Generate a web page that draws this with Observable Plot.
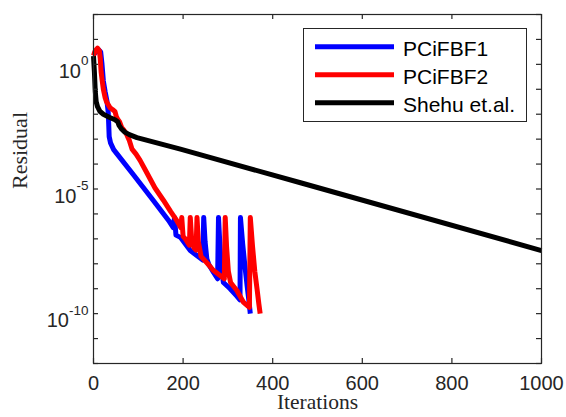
<!DOCTYPE html>
<html><head><meta charset="utf-8">
<script src="https://cdn.jsdelivr.net/npm/d3@7"></script>
<script src="https://cdn.jsdelivr.net/npm/@observablehq/plot@0.6"></script>
<style>body{margin:0;background:#fff}svg{display:block}</style>
</head><body><div id="chart"></div>
<script>
// ---- data (log10 of residual) ----
const seriesNames = ["PCiFBF1", "PCiFBF2", "Shehu et.al."];
const seriesColors = ["#0000ff", "#ff0000", "#000000"];

const blueIter = [0,6,12,16,19,22,26,30,33,35,38,45,90,134,168,178,181,184,194,216,244,246,249,253,258,268,277,279,282,286,290,305,320,327,328,333,338,343,347,350];
const blueLog  = [0.40,0.50,0.58,0.50,0.00,-0.67,-1.10,-1.47,-1.95,-2.90,-3.15,-3.42,-4.45,-5.47,-6.27,-6.55,-6.14,-6.85,-6.94,-7.47,-7.85,-6.14,-7.1,-7.8,-8.05,-8.35,-8.6,-6.14,-7.2,-8.3,-8.75,-9.0,-9.3,-9.45,-6.14,-7.2,-8.1,-8.9,-9.5,-10.0];

const redIter = [0,4,9,13,15,17,19,22,26,29,33,37,43,48,51,54,58,63,67,71,75,80,86,95,104,119,137,156,172,186,195,197,200,205,214,216,219,224,229,231,234,240,255,268,292,294,297,301,306,320,335,348,350,355,360,365,369,372];
const redLog  = [0.35,0.55,0.65,0.55,0.25,-0.30,-0.60,-1.00,-1.34,-1.50,-1.62,-1.74,-1.82,-1.90,-2.10,-2.20,-2.30,-2.54,-2.62,-2.72,-2.85,-3.05,-3.40,-3.60,-3.85,-4.35,-4.95,-5.45,-5.9,-6.27,-6.55,-6.14,-6.9,-7.0,-7.25,-6.14,-7.0,-7.35,-7.45,-6.14,-7.1,-7.7,-8.0,-8.27,-8.6,-6.14,-7.3,-8.3,-8.75,-9.07,-9.55,-9.75,-6.14,-7.3,-8.3,-9.0,-9.6,-10.0];

const blackIter = [0,2,4,6,9,14,22,35,48,54,57,62,70,80,97,194,462,1000];
const blackLog  = [0.33,-0.3,-1.1,-1.5,-1.7,-1.88,-2.0,-2.12,-2.22,-2.3,-2.45,-2.58,-2.72,-2.82,-2.94,-3.4,-4.75,-7.47];

const xTicks = [0, 200, 400, 600, 800, 1000];
const yTickExps = [-12,-11,-10,-9,-8,-7,-6,-5,-4,-3,-2,-1,0,1,2];
const yLabelExps = [0, -5, -10];

// ---- build tables ----
const toRows = (its, logs, name) => its.map((it, i) => ({iter: it, res: Math.pow(10, logs[i]), series: name}));
const blueRows = toRows(blueIter, blueLog, seriesNames[0]);
const redRows = toRows(redIter, redLog, seriesNames[1]);
const blackRows = toRows(blackIter, blackLog, seriesNames[2]);

const W = 566, H = 417, mL = 93, mR = 25, mT = 14, mB = 54;
const innerW = W - mL - mR, innerH = H - mT - mB;
const axisColor = "#262626";
const tickLen = 5;
const lw = 5;
const sans = "'Liberation Sans', Arial, Helvetica, sans-serif";
const serif = "'Liberation Serif', 'Times New Roman', serif";

const svg = Plot.plot({
  width: W, height: H,
  marginLeft: mL, marginRight: mR, marginTop: mT, marginBottom: mB,
  style: {fontFamily: sans, fontSize: "20px", color: axisColor, background: "#fff", overflow: "visible"},
  x: {domain: [0, 1000], axis: null},
  y: {type: "log", domain: [1e-12, 1e2], axis: null},
  marks: [
    Plot.line(blueRows, {x: "iter", y: "res", stroke: seriesColors[0], strokeWidth: lw, strokeLinejoin: "round", strokeLinecap: "butt"}),
    Plot.line(redRows, {x: "iter", y: "res", stroke: seriesColors[1], strokeWidth: lw, strokeLinejoin: "round", strokeLinecap: "butt"}),
    Plot.line(blackRows, {x: "iter", y: "res", stroke: seriesColors[2], strokeWidth: lw, strokeLinejoin: "round", strokeLinecap: "butt"}),
    Plot.frame({stroke: axisColor, strokeWidth: 1.2}),
    // inward ticks on all four sides
    Plot.tickX(xTicks, {x: d => d, stroke: axisColor, strokeWidth: 1.2, insetTop: innerH - tickLen}),
    Plot.tickX(xTicks, {x: d => d, stroke: axisColor, strokeWidth: 1.2, insetBottom: innerH - tickLen}),
    Plot.tickY(yTickExps, {y: d => Math.pow(10, d), stroke: axisColor, strokeWidth: 1.2, insetRight: innerW - tickLen}),
    Plot.tickY(yTickExps, {y: d => Math.pow(10, d), stroke: axisColor, strokeWidth: 1.2, insetLeft: innerW - tickLen}),
    Plot.text(xTicks, {x: d => d, frameAnchor: "bottom", text: d => String(d), textAnchor: "middle", lineAnchor: "top", dy: 12.5, fill: axisColor, fontSize: 20}),
    Plot.text(yLabelExps, {y: d => Math.pow(10, d), frameAnchor: "left", text: d => "10^" + d, textAnchor: "end", lineAnchor: "top", dx: -5, dy: -0.5, fill: axisColor, fontSize: 20}),
    Plot.text(["Residual"], {frameAnchor: "left", text: d => d, rotate: -90, dx: -73.5, fontFamily: serif, fontSize: 22, fill: axisColor}),
    Plot.text(["Iterations"], {frameAnchor: "bottom", text: d => d, dy: 45, fontFamily: serif, fontSize: 21.5, fill: axisColor})
  ]
});

// superscript exponents on y tick labels
d3.select(svg).selectAll("text").each(function() {
  const t = d3.select(this);
  const s = t.text();
  if (!s.startsWith("10^")) return;
  const e = s.slice(3);
  t.text("10");
  t.append("tspan").attr("dy", "-12.8").attr("font-size", "13.5").text(e);
});

// legend
const lg = d3.select(svg).append("g").attr("class", "legend")
  .attr("font-family", sans).attr("text-anchor", "start");
lg.append("rect").attr("x", 303.5).attr("y", 28.5).attr("width", 223).attr("height", 93)
  .attr("fill", "#fff").attr("stroke", axisColor).attr("stroke-width", 1);
seriesNames.forEach((name, i) => {
  const cy = 46.7 + i * 28;
  lg.append("line").attr("x1", 315).attr("x2", 394).attr("y1", cy).attr("y2", cy)
    .attr("stroke", seriesColors[i]).attr("stroke-width", 5);
  lg.append("text").attr("x", 403).attr("y", cy + 9.2).attr("font-size", 21)
    .attr("text-anchor", "start").attr("fill", "#000").text(name);
});

document.getElementById("chart").appendChild(svg);
</script>
</body></html>
